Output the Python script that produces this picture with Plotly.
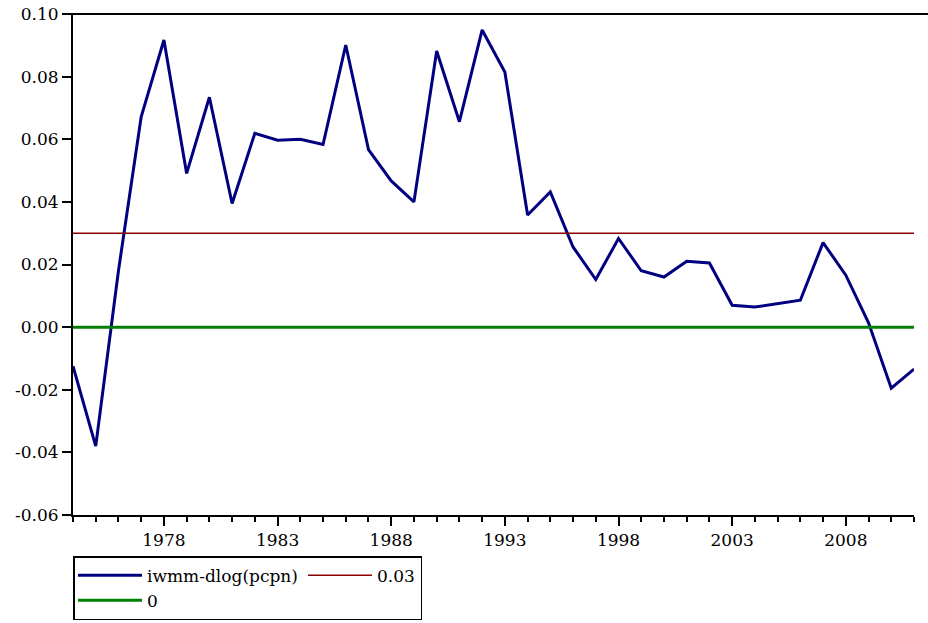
import plotly.graph_objects as go

years = list(range(1974, 2012))
iwmm = [-0.0125, -0.0380, 0.0180, 0.0672, 0.0917, 0.0491, 0.0734, 0.0395,
        0.0619, 0.0597, 0.0600, 0.0583, 0.0901, 0.0567, 0.0467, 0.0400,
        0.0882, 0.0656, 0.0949, 0.0815, 0.0358, 0.0432, 0.0256, 0.0152,
        0.0283, 0.0180, 0.0160, 0.0210, 0.0205, 0.0070, 0.0064, 0.0075,
        0.0086, 0.0270, 0.0166, 0.0014, -0.0195, -0.0134]
ref_x = [1974, 2011]
ref_003 = [0.03, 0.03]
ref_0 = [0.0, 0.0]

ytick_vals = [-0.06, -0.04, -0.02, 0.00, 0.02, 0.04, 0.06, 0.08, 0.10]
ytick_text = ["-0.06", "-0.04", "-0.02", "0.00", "0.02", "0.04", "0.06", "0.08", "0.10"]
xtick_vals = [1978, 1983, 1988, 1993, 1998, 2003, 2008]

FONT = "DejaVu Serif"
FS = 17

fig = go.Figure()
fig.add_trace(go.Scatter(x=years, y=iwmm, mode="lines", name="iwmm-dlog(pcpn)",
                         line=dict(color="#000080", width=3), legendgroup="a"))
fig.add_trace(go.Scatter(x=ref_x, y=ref_003, mode="lines", name="0.03",
                         line=dict(color="#8B0000", width=1.5), legendgroup="b"))
fig.add_trace(go.Scatter(x=ref_x, y=ref_0, mode="lines", name="0",
                         line=dict(color="#008000", width=3), legendgroup="a"))

fig.update_layout(
    width=928, height=623,
    margin=dict(l=73, r=14, t=14, b=108, autoexpand=False),
    paper_bgcolor="white", plot_bgcolor="white",
    font=dict(family=FONT, size=FS, color="black"),
    showlegend=True,
    legend=dict(orientation="h", traceorder="grouped", x=0, y=-0.082,
                xanchor="left", yanchor="top", bordercolor="black",
                borderwidth=1.5, font=dict(family=FONT, size=FS),
                itemwidth=64, tracegroupgap=6),
    xaxis=dict(range=[1974, 2011], tickvals=xtick_vals, ticks="outside",
               ticklen=9, tickwidth=2, tickcolor="black", showgrid=False,
               zeroline=False, showline=True, linecolor="black", linewidth=2,
               minor=dict(dtick=1, tick0=1974, ticks="outside", ticklen=5,
                          tickwidth=2, tickcolor="black", showgrid=False),
               tickfont=dict(family=FONT, size=FS)),
    yaxis=dict(range=[-0.06, 0.10], tickvals=ytick_vals, ticktext=ytick_text,
               ticks="outside", ticklen=9, tickwidth=2, tickcolor="black",
               showgrid=False, zeroline=False, showline=True, linecolor="black",
               linewidth=2, tickfont=dict(family=FONT, size=FS)),
    shapes=[dict(type="line", xref="paper", yref="paper", x0=-0.011, x1=1.02,
                 y0=1, y1=1, line=dict(color="black", width=2))],
)

fig.write_html("out.html", config={"displayModeBar": False},
               post_script="document.body.style.margin='0';")
